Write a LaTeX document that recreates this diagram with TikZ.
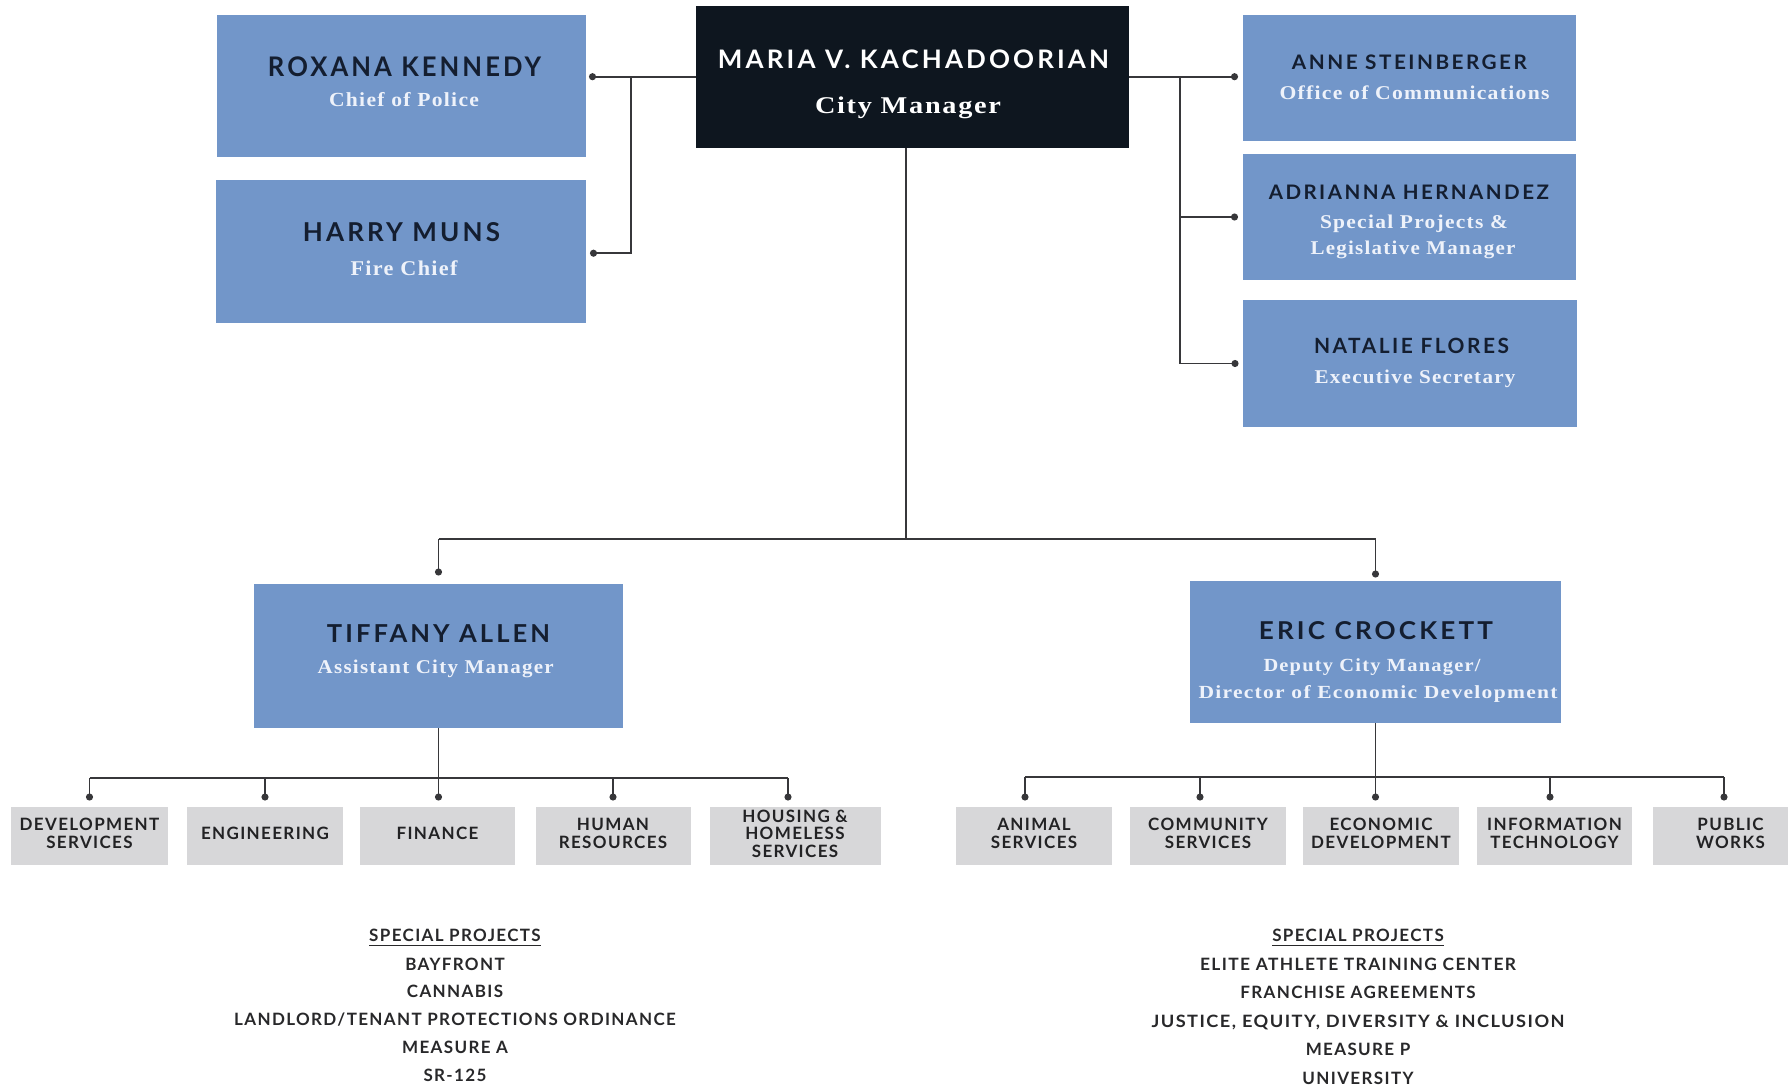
\documentclass[tikz,border=0pt]{standalone}
\usepackage{fontspec}
\usepackage{graphicx}
\usetikzlibrary{arrows.meta}

% typefaces: tracked sans for names and units, serif for job titles
\newfontfamily\namefont{Lato}[LetterSpace=12]
\newfontfamily\rolefont{Liberation Serif}[LetterSpace=6]
\newfontfamily\deptfont{Lato}[LetterSpace=8]

\definecolor{boxblue}{RGB}{114,150,201}
\definecolor{chiefbox}{RGB}{14,22,31}
\definecolor{navytext}{RGB}{20,30,48}
\definecolor{roletext}{RGB}{238,242,250}
\definecolor{deptfill}{RGB}{215,215,217}
\definecolor{depttext}{RGB}{34,34,36}
\definecolor{projtext}{RGB}{40,40,42}
\definecolor{wire}{RGB}{55,55,58}

% set a line of text to a given width, keeping its height
\newcommand\fitto[2]{\resizebox{#1}{\height}{#2}}

\begin{document}
\begin{tikzpicture}[x=1pt,y=-1pt,
  wire/.style={draw=wire, line width=1.8pt},
  dotwire/.style={wire, -{Circle[length=7pt,width=7pt]}},
  bluebox/.style={fill=boxblue, draw=none, inner sep=0pt, outer sep=0pt},
  chief/.style={fill=chiefbox, draw=none, inner sep=0pt, outer sep=0pt},
  deptbox/.style={fill=deptfill, draw=none, inner sep=0pt, outer sep=0pt,
    minimum width=155pt, minimum height=58pt, align=center, text=depttext,
    text depth=5pt,
    font=\deptfont\bfseries\fontsize{17}{17.5}\selectfont},
  nametxt/.style={anchor=base, inner sep=0pt, text=navytext},
  roletxt/.style={anchor=base, inner sep=0pt, text=roletext},
  projhead/.style={anchor=base, inner sep=0pt, text=projtext,
    font=\deptfont\bfseries\fontsize{17}{17}\selectfont},
  projlist/.style={anchor=north, inner sep=0pt, text=projtext, align=center,
    font=\deptfont\bfseries\fontsize{17}{#1}\selectfont}
]
\useasboundingbox (0,0) rectangle (1788,1085);
\clip (0,0) rectangle (1788,1085);
\fill[white] (0,0) rectangle (1788,1085);

% ---- leadership boxes
\node[bluebox, minimum width=369pt, minimum height=142pt] (rox)   at (401,85.5) {};
\node[bluebox, minimum width=370pt, minimum height=143pt] (harry) at (400.5,251.7) {};
\node[chief,   minimum width=433pt, minimum height=142pt] (maria) at (912.5,76.7) {};
\node[bluebox, minimum width=333pt, minimum height=126pt] (anne)  at (1409,77.7) {};
\node[bluebox, minimum width=333pt, minimum height=126pt] (adri)  at (1409,217) {};
\node[bluebox, minimum width=334pt, minimum height=127pt] (nat)   at (1410,363.5) {};
\node[bluebox, minimum width=369pt, minimum height=144pt] (tif)   at (438.5,656) {};
\node[bluebox, minimum width=371pt, minimum height=142pt] (eric)  at (1375.5,652) {};

% ---- names
\begin{scope}[nametxt, font=\namefont\bfseries]
\node[font=\namefont\bfseries\fontsize{27}{27}\selectfont] (rox-n)   at (404.5,76)  {\fitto{273pt}{ROXANA KENNEDY}};
\node[font=\namefont\bfseries\fontsize{26}{26}\selectfont] (harry-n) at (401.5,241) {\fitto{197pt}{HARRY MUNS}};
\node[font=\namefont\bfseries\fontsize{25.5}{26}\selectfont, text=white] (maria-n) at (913.5,68) {\fitto{391pt}{MARIA V. KACHADOORIAN}};
\node[font=\namefont\bfseries\fontsize{20}{20}\selectfont] (anne-n)  at (1409.4,69)  {\fitto{235pt}{ANNE STEINBERGER}};
\node[font=\namefont\bfseries\fontsize{20}{20}\selectfont] (adri-n)  at (1408.8,199) {\fitto{280pt}{ADRIANNA HERNANDEZ}};
\node[font=\namefont\bfseries\fontsize{21}{21}\selectfont] (nat-n)   at (1411.5,353) {\fitto{195pt}{NATALIE FLORES}};
\node[font=\namefont\bfseries\fontsize{24.7}{25}\selectfont] (tif-n)  at (438.5,642) {\fitto{223pt}{TIFFANY ALLEN}};
\node[font=\namefont\bfseries\fontsize{24.6}{25}\selectfont] (eric-n) at (1375.9,639) {\fitto{234pt}{ERIC CROCKETT}};
\end{scope}

% ---- job titles
\begin{scope}[roletxt]
\node[font=\rolefont\bfseries\fontsize{20}{20}\selectfont] (rox-r)   at (404,106)    {\fitto{150pt}{Chief of Police}};
\node[font=\rolefont\bfseries\fontsize{21}{21}\selectfont] (harry-r) at (404,275)    {\fitto{107pt}{Fire Chief}};
\node[font=\rolefont\bfseries\fontsize{24}{24}\selectfont, text=white] (maria-r) at (908,113) {\fitto{186pt}{City Manager}};
\node[font=\rolefont\bfseries\fontsize{19.5}{20}\selectfont] (anne-r)  at (1414.5,99) {\fitto{270pt}{Office of Communications}};
\node[font=\rolefont\bfseries\fontsize{19.5}{20}\selectfont] (adri-r1) at (1414,228)  {\fitto{188pt}{Special Projects \&}};
\node[font=\rolefont\bfseries\fontsize{19.5}{20}\selectfont] (adri-r2) at (1413,254)  {\fitto{205pt}{Legislative Manager}};
\node[font=\rolefont\bfseries\fontsize{19.5}{20}\selectfont] (nat-r)   at (1415,383)  {\fitto{201pt}{Executive Secretary}};
\node[font=\rolefont\bfseries\fontsize{19.5}{20}\selectfont] (tif-r)   at (435.7,673) {\fitto{236pt}{Assistant City Manager}};
\node[font=\rolefont\bfseries\fontsize{18.5}{19}\selectfont] (eric-r1) at (1372,671)  {\fitto{217pt}{Deputy City Manager/}};
\node[font=\rolefont\bfseries\fontsize{18.5}{19}\selectfont] (eric-r2) at (1378,698)  {\fitto{359pt}{Director of Economic Development}};
\end{scope}

% ---- departments
\node[deptbox, minimum width=157pt] (dev)  at (89.5,836)  {DEVELOPMENT\\SERVICES};
\node[deptbox, minimum width=156pt] (eng)  at (265,836)   {ENGINEERING};
\node[deptbox] (fin)  at (437.5,836) {FINANCE};
\node[deptbox] (hr)   at (613,836)   {HUMAN\\RESOURCES};
\node[deptbox, minimum width=171pt] (hous) at (795,836)   {HOUSING \&\\HOMELESS\\SERVICES};
\node[deptbox, minimum width=156pt] (ani)  at (1034,836)  {ANIMAL\\SERVICES};
\node[deptbox, minimum width=156pt] (com)  at (1208,836)  {COMMUNITY\\SERVICES};
\node[deptbox, minimum width=156pt] (eco)  at (1381,836)  {ECONOMIC\\DEVELOPMENT};
\node[deptbox] (inf)  at (1554.5,836) {INFORMATION\\TECHNOLOGY};
\node[deptbox] (pub)  at (1730.5,836) {PUBLIC\\WORKS};

% ---- special projects lists
\node[projhead] (lsp-h) at (455,941.7) {SPECIAL PROJECTS};
\draw[projtext, line width=1.4pt] ([yshift=-3.5pt]lsp-h.base west) -- ([yshift=-3.5pt]lsp-h.base east);
\node[projlist=27.8] (lsp) at (455,957.5) {BAYFRONT\\CANNABIS\\LANDLORD/TENANT PROTECTIONS ORDINANCE\\MEASURE A\\SR-125};

\node[projhead] (rsp-h) at (1358,941.7) {SPECIAL PROJECTS};
\draw[projtext, line width=1.4pt] ([yshift=-3.5pt]rsp-h.base west) -- ([yshift=-3.5pt]rsp-h.base east);
\node[projlist=28.5] (rsp) at (1358,957.8) {\fitto{316pt}{ELITE ATHLETE TRAINING CENTER}\\FRANCHISE AGREEMENTS\\\fitto{413pt}{JUSTICE, EQUITY, DIVERSITY \& INCLUSION}\\MEASURE P\\UNIVERSITY};

% ---- connectors: city manager to direct reports
\coordinate (lbus) at (631,0);
\coordinate (rbus) at (1180,0);
\coordinate (mbus) at (0,539);
\draw[dotwire] (maria.west) -- ([xshift=3.5pt]rox.east |- maria.west);
\draw[dotwire] (maria.west -| lbus) |- ([xshift=4.5pt,yshift=-1.5pt]harry.east);
\draw[dotwire] (maria.east) -- ([xshift=-4.5pt]anne.west |- maria.east);
\draw[dotwire] (maria.east -| rbus) |- ([xshift=-4.5pt]adri.west);
\draw[dotwire] (maria.east -| rbus) |- ([xshift=-4.5pt]nat.west);

\draw[wire] ([xshift=-6.5pt]maria.south) -- ([xshift=-6.5pt]maria.south |- mbus);
\draw[wire] (tif.north |- mbus) -- (eric.north |- mbus);
\draw[dotwire] (tif.north |- mbus) -- ([yshift=8.5pt]tif.north);
\draw[dotwire] (eric.north |- mbus) -- ([yshift=3.5pt]eric.north);

% ---- connectors: assistant city manager to departments
\coordinate (tbus) at (0,778);
\draw[wire] (dev.north |- tbus) -- ([xshift=-7pt]hous.north |- tbus);
\draw[dotwire] (tif.south) -- ([yshift=6.5pt]fin.north -| tif.south);
\draw[dotwire] (dev.north |- tbus) -- ([yshift=6.5pt]dev.north);
\draw[dotwire] (eng.north |- tbus) -- ([yshift=6.5pt]eng.north);
\draw[dotwire] (hr.north |- tbus) -- ([yshift=6.5pt]hr.north);
\draw[dotwire] ([xshift=-7pt]hous.north |- tbus) -- ([xshift=-7pt,yshift=6.5pt]hous.north);

% ---- connectors: deputy city manager to departments
\coordinate (ebus) at (0,777);
\draw[wire] ([xshift=-9pt]ani.north |- ebus) -- ([xshift=-6.5pt]pub.north |- ebus);
\draw[dotwire] (eric.south) -- ([yshift=6.5pt]eco.north -| eric.south);
\draw[dotwire] ([xshift=-9pt]ani.north |- ebus) -- ([xshift=-9pt,yshift=6.5pt]ani.north);
\draw[dotwire] ([xshift=-8pt]com.north |- ebus) -- ([xshift=-8pt,yshift=6.5pt]com.north);
\draw[dotwire] ([xshift=-4.5pt]inf.north |- ebus) -- ([xshift=-4.5pt,yshift=6.5pt]inf.north);
\draw[dotwire] ([xshift=-6.5pt]pub.north |- ebus) -- ([xshift=-6.5pt,yshift=6.5pt]pub.north);
\end{tikzpicture}
\end{document}
